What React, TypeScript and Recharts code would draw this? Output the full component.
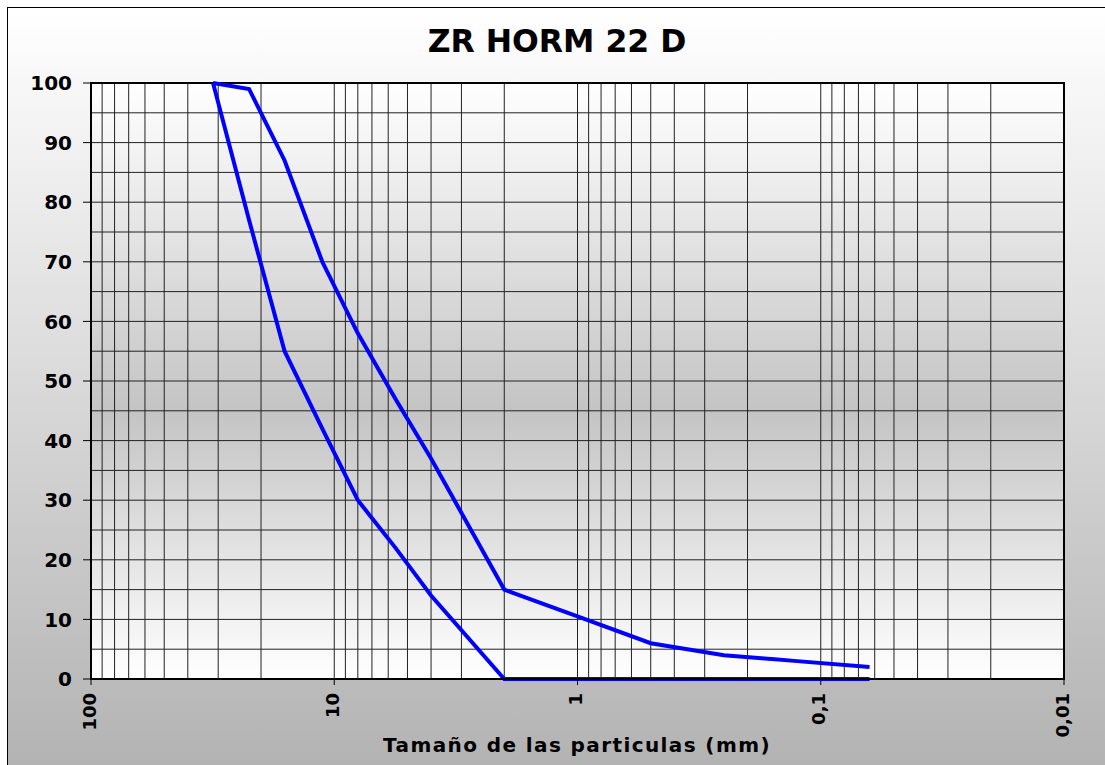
import { LineChart, Line, XAxis, YAxis, CartesianGrid, ReferenceArea } from 'recharts';

// sieve openings (mm) and passing percentages for the two grading limits
const sieves = [31.5, 22.4, 16, 11.2, 8, 5.6, 4, 2, 1, 0.5, 0.25, 0.125, 0.063];
const upperLimit = [100, 99, 87, 70, 58, 47, 37, 15, 10.5, 6, 4, 3, 2];
const lowerLimit = [100, 77, 55, 42, 30, 22, 14, 0, 0, 0, 0, 0, 0];

const xTicks = [100, 10, 1, 0.1, 0.01];
const yTicks = [0, 10, 20, 30, 40, 50, 60, 70, 80, 90, 100];
const yGrid = [0, 5, 10, 15, 20, 25, 30, 35, 40, 45, 50, 55, 60, 65, 70, 75, 80, 85, 90, 95, 100];
const xGrid = [
  100, 90, 80, 70, 60, 50, 40, 30, 20,
  10, 9, 8, 7, 6, 5, 4, 3, 2,
  1, 0.9, 0.8, 0.7, 0.6, 0.5, 0.4, 0.3, 0.2,
  0.1, 0.09, 0.08, 0.07, 0.06, 0.05, 0.04, 0.03, 0.02, 0.01,
];

const data = sieves.map((size, i) => ({ size, upper: upperLimit[i], lower: lowerLimit[i] }));

const FONT = '"DejaVu Sans", "Liberation Sans", sans-serif';

function XTick(props: any) {
  const { x, y, payload } = props;
  const label = String(payload.value).replace('.', ',');
  return (
    <g transform={`translate(${x},${y})`}>
      <text
        transform="rotate(-90)"
        x={-6}
        y={-2}
        textAnchor="end"
        dominantBaseline="central"
        fontSize={18}
        fontWeight="bold"
        fill="#000"
      >
        {label}
      </text>
    </g>
  );
}

export default function App() {
  return (
    <div
      style={{
        position: 'fixed',
        left: 7,
        top: 7,
        width: 1098,
        height: 758,
        boxSizing: 'border-box',
        borderLeft: '1px solid #000',
        borderTop: '1px solid #000',
        background: 'linear-gradient(#ffffff, #b3b3b3)',
        fontFamily: FONT,
        overflow: 'hidden',
      }}
    >
      <LineChart width={1097} height={757} data={data} margin={{ top: 75, right: 41, bottom: 0, left: 0 }}>
        <defs>
          <linearGradient id="plotBg" x1="0" y1="0" x2="0" y2="1">
            <stop offset="0%" stopColor="#ffffff" />
            <stop offset="55%" stopColor="#c4c4c4" />
            <stop offset="100%" stopColor="#ffffff" />
          </linearGradient>
        </defs>
        <text x={549} y={44} textAnchor="middle" fontSize={31.5} fontWeight="bold" fill="#000">
          ZR HORM 22 D
        </text>
        <CartesianGrid
          fill="url(#plotBg)"
          fillOpacity={1}
          stroke="#222"
          strokeWidth={1}
          horizontalValues={yGrid}
          verticalValues={xGrid}
        />
        <XAxis
          dataKey="size"
          type="number"
          scale="log"
          domain={[0.01, 100]}
          reversed
          allowDataOverflow
          ticks={xTicks}
          interval={0}
          height={86}
          tickSize={6}
          tickMargin={2}
          tick={<XTick />}
          axisLine={{ stroke: '#000', strokeWidth: 2 }}
          tickLine={{ stroke: '#000' }}
        />
        <YAxis
          type="number"
          domain={[0, 100]}
          ticks={yTicks}
          interval={0}
          width={83}
          tickSize={8}
          tickMargin={11}
          tick={{ fill: '#000', fontSize: 20, fontWeight: 'bold' }}
          axisLine={{ stroke: '#000', strokeWidth: 2 }}
          tickLine={{ stroke: '#000' }}
        />
        <ReferenceArea
          x1={100}
          x2={0.01}
          y1={0}
          y2={100}
          fill="none"
          fillOpacity={0}
          stroke="#000"
          strokeWidth={2}
          ifOverflow="visible"
        />
        <Line
          type="linear"
          dataKey="upper"
          stroke="#0000ff"
          strokeWidth={4}
          dot={false}
          isAnimationActive={false}
        />
        <Line
          type="linear"
          dataKey="lower"
          stroke="#0000ff"
          strokeWidth={4}
          dot={false}
          isAnimationActive={false}
        />
        <text x={569} y={744} textAnchor="middle" fontSize={20} fontWeight="bold" letterSpacing={1.4} fill="#000">
          Tamaño de las particulas (mm)
        </text>
      </LineChart>
    </div>
  );
}
